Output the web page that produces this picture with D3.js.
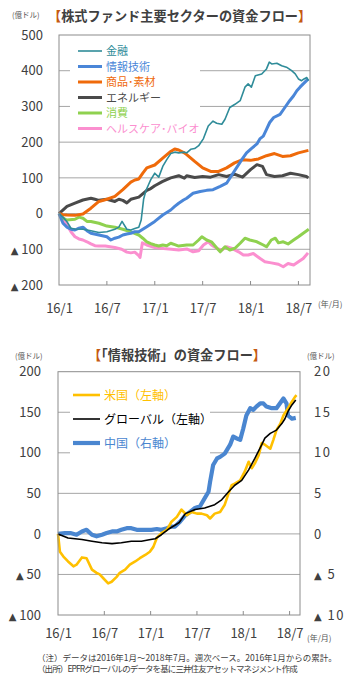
<!DOCTYPE html>
<html><head><meta charset="utf-8">
<script src="https://cdn.jsdelivr.net/npm/d3@7"></script>
<style>
body{margin:0;background:#fff;}
svg{display:block;}
text{font-family:"Noto Sans CJK JP","Noto Sans",sans-serif;}
</style></head><body>
<svg id="c" width="357" height="678"></svg>
<script>
// ---------- DATA (months since 2016/1, value) ----------
const topTickMonths = [0, 6, 12, 18, 24, 30];
const topTickLabels = ["16/1", "16/7", "17/1", "17/7", "18/1", "18/7"];
const topYTicks = [500, 400, 300, 200, 100, 0, -100, -200];

const finance = [[0,0],[0.5,-10],[1,-23],[1.5,-41],[2,-43],[3,-44],[4,-48],[5,-53],[6,-51],[7,-44],[7.5,-38],[7.9,-22],[8.5,-44],[9,-46],[9.5,-42],[10,-38],[10.3,-18],[10.6,40],[10.9,65],[11.2,80],[11.5,95],[12,113],[12.5,102],[13,132],[13.5,151],[14,168],[14.5,172],[15,170],[15.7,172],[16,170],[16.5,180],[17,182],[17.5,190],[18.1,210],[18.7,245],[19.3,259],[19.75,253],[20.4,250],[20.8,264],[21.4,297],[22.05,306],[22.7,316],[23.3,354],[23.7,363],[24.1,354],[24.6,386],[25.4,391],[26,405],[26.35,424],[26.65,419],[27.3,421],[27.9,414],[28.5,410],[29.15,400],[29.6,391],[30,377],[30.4,372],[30.7,377],[31.05,381],[31.25,372]];
const infoTech = [[0,0],[0.5,-27],[1,-38],[1.5,-44],[2,-46],[2.5,-41],[3,-38],[3.5,-48],[4,-55],[5,-60],[6,-65],[6.5,-74],[7,-69],[7.5,-66],[8,-60],[8.5,-57],[9,-55],[9.5,-51],[10,-51],[10.5,-44],[11,-37],[12,-22],[13,-4],[14,10],[14.5,20],[15,29],[15.6,38],[16,43],[16.8,57],[17.7,62],[18.5,65],[19.3,67],[20.2,76],[21,85],[21.8,113],[22.5,137],[22.9,151],[23.5,170],[24.1,182],[24.8,195],[25.2,210],[25.6,217],[26,236],[26.4,255],[26.9,269],[27.7,278],[28.3,297],[28.9,316],[29.4,330],[29.8,344],[30.2,354],[30.6,363],[31.24,377]];
const materials = [[0,0],[0.5,-3],[1,-4],[2,-5],[3,-1],[4,15],[5,34],[6,40],[7,48],[8,67],[9,88],[9.5,94],[10,97],[10.5,113],[11,128],[12,136],[13,155],[14,174],[14.5,181],[15,178],[15.7,170],[16,165],[17,146],[18,128],[19,118],[20,118],[21,128],[22,142],[23,151],[24,149],[25,153],[26,162],[27,168],[28,160],[29,162],[30,170],[31.25,177]];
const energy = [[0,0],[1,20],[2,29],[3,38],[4,43],[4.5,40],[5,37],[6,40],[7,34],[7.5,40],[8,37],[8.5,30],[9,40],[10,46],[11,65],[11.5,70],[12,78],[13,90],[14,100],[15,106],[15.7,99],[16,106],[17,101],[18,104],[19,102],[20,109],[21,104],[22,110],[23,102],[24,123],[24.8,137],[25.5,132],[26,109],[27,104],[28,106],[29,113],[30,109],[31,104],[31.25,100]];
const consumer = [[0,0],[0.5,-13],[1,-18],[2,-16],[2.5,-10],[3,-13],[3.5,-22],[4,-22],[5,-27],[6,-35],[7,-38],[8,-44],[9,-51],[10,-60],[10.5,-69],[11,-79],[11.5,-84],[12,-88],[12.5,-91],[13,-88],[13.5,-90],[14,-83],[14.5,-87],[15,-91],[16,-88],[16.8,-88],[17.5,-74],[17.9,-65],[18.5,-74],[19.1,-79],[19.8,-97],[20.2,-107],[20.8,-93],[21.4,-102],[22.05,-97],[22.7,-83],[23.3,-69],[23.9,-74],[24.8,-79],[25.6,-88],[26,-93],[26.6,-74],[27.1,-69],[27.5,-82],[28.1,-79],[28.7,-85],[29.4,-74],[30,-65],[30.6,-55],[31.3,-44]];
const health = [[0,0],[0.5,-13],[1,-32],[1.5,-51],[2,-65],[2.5,-71],[3,-74],[3.5,-79],[4,-85],[4.5,-90],[5,-91],[5.8,-91],[7,-95],[7.85,-100],[8.5,-108],[9,-110],[9.5,-108],[10,-118],[10.15,-123],[10.45,-82],[11,-88],[12,-95],[13.1,-98],[14.1,-100],[15,-102],[16,-99],[16.8,-107],[17.5,-104],[18.1,-88],[18.7,-79],[19.1,-88],[19.8,-98],[20.4,-102],[21,-93],[21.6,-97],[22.5,-107],[23.1,-116],[23.7,-116],[24.35,-112],[25.2,-126],[25.8,-135],[26.6,-138],[27.5,-142],[28.1,-149],[28.7,-140],[29.4,-144],[30,-135],[30.6,-126],[31.2,-110]];

const topSeriesNames = ["金融", "情報技術", "商品･素材", "エネルギー", "消費", "ヘルスケア･バイオ"];

const botTickMonths = [0, 6, 12, 18, 24, 30];
const botTickLabels = ["16/1", "16/7", "17/1", "17/7", "18/1", "18/7"];
const botLeftTicks = [200, 150, 100, 50, 0, -50, -100];
const botRightTicks = [20, 15, 10, 5, 0, -5, -10];

const usa = [[0,0],[0.25,-22],[0.7,-28],[1.3,-34],[2,-40],[2.4,-38],[3.1,-29],[3.7,-30],[4.4,-44],[5,-48],[5.4,-50],[5.9,-55],[6.5,-61],[6.95,-59],[7.6,-53],[8,-48],[8.7,-44],[9.3,-38],[10,-34],[10.6,-30],[11.3,-26],[11.9,-22],[12.35,-16],[12.8,-5],[13.4,1],[14.1,5],[14.7,15],[15.4,21],[16,30],[16.7,23],[17.3,27],[18,25],[18.6,25],[19.3,23],[19.7,19],[20.3,25],[21,27],[21.6,36],[22.1,50],[22.5,60],[22.9,62],[23.6,66],[24.2,77],[24.7,89],[25.1,81],[25.5,87],[26,97],[26.4,112],[26.8,110],[27.5,105],[27.9,116],[28.3,128],[28.8,136],[29.2,146],[29.8,155],[30.3,163],[30.7,169],[30.9,171]];
const globalIT = [[0,0],[1.3,-5],[3.1,-7],[4.4,-9],[5.7,-11],[7,-12],[8.2,-11],[9.5,-9],[10.8,-9],[12,-7],[12.6,-6],[13.4,-1],[14.5,7],[15.2,11],[15.7,14],[16.5,25],[17.75,30],[19,32],[20.3,36],[21.2,42],[22.1,52],[22.9,60],[23.8,66],[24.7,79],[25.5,93],[26.4,110],[26.8,118],[27.5,124],[28.3,128],[29,136],[29.4,142],[29.8,151],[30.3,159],[30.8,165]];
const china = [[0,0],[0.9,0.1],[1.6,0.1],[2.4,-0.1],[3.1,0.3],[3.7,0.5],[4.4,-0.1],[5,-0.3],[5.7,-0.1],[6.3,0.1],[7,0.3],[7.6,0.3],[8.2,0.5],[8.9,0.7],[9.5,0.7],[10.2,0.5],[10.8,0.5],[11.5,0.5],[12.1,0.5],[12.8,0.6],[13.4,0.5],[14.1,0.7],[14.7,0.9],[15.16,0.9],[15.8,1.5],[16.5,2.3],[17.1,2.7],[17.75,3.2],[18.4,3.4],[19,4.4],[19.5,5.2],[19.7,6.4],[20.1,8.5],[20.6,9.3],[21,9.5],[21.6,9.9],[22.3,11.0],[22.7,12.0],[23.1,11.8],[23.6,11.6],[24,13.0],[24.4,14.6],[24.9,15.5],[25.3,15.3],[25.7,15.7],[26.2,16.1],[26.6,16.1],[27,15.7],[27.7,15.5],[28.3,15.5],[28.9,16.3],[29.2,16.7],[29.6,16.1],[29.8,14.6],[30.3,14.2],[30.8,14.3]];
const botSeriesNames = ["米国（左軸）", "グローバル（左軸）", "中国（右軸）"];

// ---------- DRAW ----------
const svg = d3.select("#c");
const GRID = "#a6a6a6", FRAME = "#8c8c8c", TXT = "#404040", BRK = "#c55a11";
const negFmt = d => d < 0 ? "▲ " + (-d) : String(d);

function title(x, y, inner) {
  const t = svg.append("text").attr("x", x).attr("y", y).attr("font-size", 13.2).attr("font-weight", "bold").attr("fill", TXT);
  t.append("tspan").attr("fill", BRK).text("【");
  t.append("tspan").text(inner);
  t.append("tspan").attr("fill", BRK).text("】");
}
function small(x, y, s, size) {
  svg.append("text").attr("x", x).attr("y", y).attr("font-size", size || 8).attr("fill", "#555").text(s);
}
function styleNegLabels(sel) {
  sel.selectAll(".tick text").each(function(d) {
    const t = d3.select(this);
    t.text(null);
    if (d < 0) {
      t.append("tspan").attr("font-size", 10).attr("font-family", "DejaVu Sans").text("▲");
      t.append("tspan").text(" " + (-d));
    } else t.text(d);
  });
}

// ===== TOP CHART =====
const x1 = d3.scaleLinear().domain([0, 31.45]).range([59, 310]);
const y1 = d3.scaleLinear().domain([-200, 500]).range([285, 35]);

title(48, 21, "株式ファンド主要セクターの資金フロー");
small(12, 18, "(億ドル)", 7.5);

svg.append("g").selectAll("line").data(topYTicks.filter(d => d > -200 && d < 500)).join("line")
  .attr("x1", x1.range()[0]).attr("x2", x1.range()[1]).attr("y1", d => y1(d)).attr("y2", d => y1(d))
  .attr("stroke", GRID).attr("stroke-width", 1);

const ya1 = svg.append("g").attr("transform", `translate(${x1.range()[0] - 13},0)`)
  .call(d3.axisLeft(y1).tickValues(topYTicks).tickSize(0).tickFormat(negFmt));
ya1.select(".domain").remove();
ya1.selectAll("text").attr("font-size", 13).attr("fill", TXT).attr("font-family", "Liberation Sans");
styleNegLabels(ya1);

const xa1 = svg.append("g").attr("transform", `translate(0,${y1.range()[0]})`)
  .call(d3.axisBottom(x1).tickValues(topTickMonths).tickSize(0).tickPadding(19).tickFormat((d, i) => topTickLabels[i]));
xa1.select(".domain").remove();
xa1.selectAll("text").attr("font-size", 13).attr("fill", TXT).attr("font-family", "Liberation Sans");
svg.append("g").selectAll("line").data(topTickMonths.slice(1)).join("line")
  .attr("x1", d => x1(d)).attr("x2", d => x1(d)).attr("y1", y1.range()[0]).attr("y2", y1.range()[0] - 4)
  .attr("stroke", FRAME);
small(318, 307, "(年/月)");

svg.append("rect").attr("x", 70).attr("y", 39).attr("width", 130).attr("height", 98).attr("fill", "#fff");

const topColors = ["#2f8c99", "#4a86d8", "#ef6a0a", "#4a4a4a", "#8fd14f", "#fb8fcf"];
const topWidths = [1.6, 3, 3, 3, 3, 3];
const topData = [finance, infoTech, materials, energy, consumer, health];
const line1 = d3.line().x(d => x1(d[0])).y(d => y1(d[1]));
[5, 4, 3, 2, 1, 0].forEach(i => {
  svg.append("path").datum(topData[i]).attr("d", line1).attr("fill", "none")
    .attr("stroke", topColors[i]).attr("stroke-width", topWidths[i]).attr("stroke-linejoin", "round");
});
svg.append("rect").attr("x", x1.range()[0]).attr("y", y1.range()[1]).attr("width", x1.range()[1] - x1.range()[0])
  .attr("height", y1.range()[0] - y1.range()[1]).attr("fill", "none").attr("stroke", FRAME);

const lg1 = svg.append("g");
topSeriesNames.forEach((n, i) => {
  const yy = 51 + i * 15.5;
  lg1.append("line").attr("x1", 78).attr("x2", 102).attr("y1", yy).attr("y2", yy)
    .attr("stroke", topColors[i]).attr("stroke-width", topWidths[i]);
  lg1.append("text").attr("x", 106).attr("y", yy + 4).attr("font-size", 11).attr("fill", topColors[i]).text(n);
});

// ===== BOTTOM CHART =====
const x2 = d3.scaleLinear().domain([0, 31.35]).range([58, 300]);
const y2 = d3.scaleLinear().domain([-100, 200]).range([615, 371.7]);
const y2r = d3.scaleLinear().domain([-10, 20]).range([615, 371.7]);

title(88, 360, "「情報技術」の資金フロー");
small(15, 359, "(億ドル)", 7.5);
small(307, 359, "(億ドル)", 7.5);

svg.append("g").selectAll("line").data(botLeftTicks.filter(d => d > -100 && d < 200)).join("line")
  .attr("x1", x2.range()[0]).attr("x2", x2.range()[1]).attr("y1", d => y2(d)).attr("y2", d => y2(d))
  .attr("stroke", GRID);

const ya2 = svg.append("g").attr("transform", `translate(${x2.range()[0] - 14},0)`)
  .call(d3.axisLeft(y2).tickValues(botLeftTicks).tickSize(0).tickFormat(negFmt));
ya2.select(".domain").remove();
ya2.selectAll("text").attr("font-size", 13).attr("fill", TXT).attr("font-family", "Liberation Sans");
styleNegLabels(ya2);

const ya2r = svg.append("g").attr("transform", `translate(${x2.range()[1] + 14},0)`)
  .call(d3.axisRight(y2r).tickValues(botRightTicks).tickSize(0).tickPadding(0).tickFormat(negFmt));
ya2r.select(".domain").remove();
ya2r.selectAll("text").attr("font-size", 13).attr("fill", TXT).attr("font-family", "Liberation Sans").attr("letter-spacing", 1.5);
styleNegLabels(ya2r);

const xa2 = svg.append("g").attr("transform", `translate(0,${y2.range()[0]})`)
  .call(d3.axisBottom(x2).tickValues(botTickMonths).tickSize(0).tickPadding(14).tickFormat((d, i) => botTickLabels[i]));
xa2.select(".domain").remove();
xa2.selectAll("text").attr("font-size", 13).attr("fill", TXT).attr("font-family", "Liberation Sans");
svg.append("g").selectAll("line").data(botTickMonths.slice(1)).join("line")
  .attr("x1", d => x2(d)).attr("x2", d => x2(d)).attr("y1", y2.range()[0]).attr("y2", y2.range()[0] - 4)
  .attr("stroke", FRAME);
small(307, 641, "(年/月)");

svg.append("rect").attr("x", 70).attr("y", 378).attr("width", 140).attr("height", 80).attr("fill", "#fff");

const botColors = ["#ffc000", "#000000", "#4a86d0"];
const botWidths = [2.6, 1.6, 4.2];
const line2 = d3.line().x(d => x2(d[0])).y(d => y2(d[1]));
const line2r = d3.line().x(d => x2(d[0])).y(d => y2r(d[1]));
svg.append("path").datum(china).attr("d", line2r).attr("fill", "none").attr("stroke", botColors[2]).attr("stroke-width", botWidths[2]).attr("stroke-linejoin", "round");
svg.append("path").datum(usa).attr("d", line2).attr("fill", "none").attr("stroke", botColors[0]).attr("stroke-width", botWidths[0]).attr("stroke-linejoin", "round");
svg.append("path").datum(globalIT).attr("d", line2).attr("fill", "none").attr("stroke", botColors[1]).attr("stroke-width", botWidths[1]).attr("stroke-linejoin", "round");

svg.append("rect").attr("x", x2.range()[0]).attr("y", y2.range()[1]).attr("width", x2.range()[1] - x2.range()[0])
  .attr("height", y2.range()[0] - y2.range()[1]).attr("fill", "none").attr("stroke", FRAME);

const lg2 = svg.append("g");
botSeriesNames.forEach((n, i) => {
  const yy = 395 + i * 24;
  lg2.append("line").attr("x1", 73).attr("x2", 100).attr("y1", yy).attr("y2", yy)
    .attr("stroke", botColors[i]).attr("stroke-width", botWidths[i]);
  lg2.append("text").attr("x", 104).attr("y", yy + 4.5).attr("font-size", 12).attr("fill", i === 1 ? "#000" : botColors[i]).text(n);
});

// notes
svg.append("text").attr("x", 37).attr("y", 661).attr("font-size", 8.5).attr("fill", TXT)
  .text("（注）データは2016年1月～2018年7月。週次ベース。2016年1月からの累計。");
svg.append("text").attr("x", 37).attr("y", 672).attr("font-size", 8.5).attr("fill", TXT).attr("letter-spacing", -0.9)
  .text("（出所）EPFRグローバルのデータを基に三井住友アセットマネジメント作成");
</script></body></html>
